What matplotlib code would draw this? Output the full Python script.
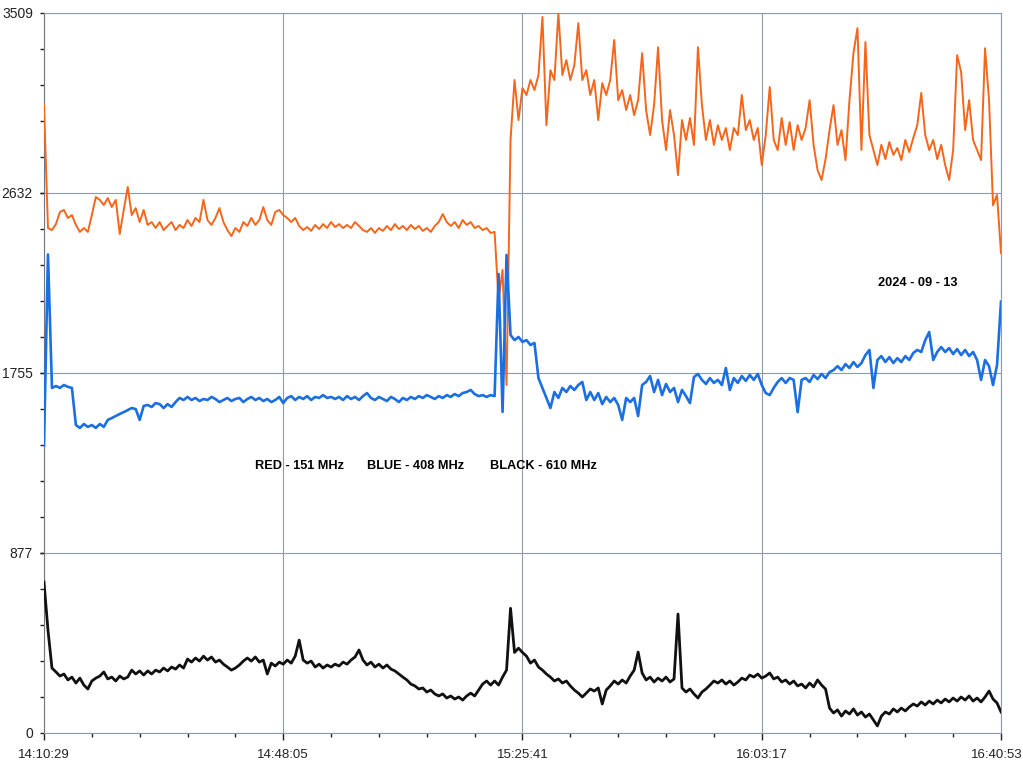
import matplotlib
matplotlib.use('Agg')
import matplotlib.pyplot as plt
from matplotlib.transforms import ScaledTranslation
import numpy as np

plt.rcParams['font.family'] = ['Liberation Sans', 'DejaVu Sans']

# sample clock: seconds since 14:10:29, one reading every 37.6 s
t = np.linspace(0, 9024, 241)

# 151 MHz (red trace)
red = [
    3060, 2459, 2449, 2478, 2537, 2547, 2508, 2522, 2474, 2440,
    2459, 2440, 2522, 2610, 2596, 2571, 2605, 2561, 2596, 2430,
    2547, 2659, 2522, 2556, 2488, 2547, 2474, 2488, 2459, 2488,
    2449, 2469, 2488, 2449, 2474, 2459, 2498, 2469, 2508, 2488,
    2596, 2498, 2474, 2508, 2556, 2488, 2449, 2420, 2459, 2440,
    2488, 2469, 2508, 2474, 2498, 2561, 2498, 2474, 2537, 2547,
    2522, 2508, 2488, 2508, 2469, 2449, 2464, 2445, 2474, 2454,
    2478, 2459, 2488, 2464, 2478, 2459, 2474, 2459, 2488, 2469,
    2449, 2440, 2459, 2435, 2459, 2445, 2469, 2449, 2478, 2454,
    2469, 2449, 2474, 2454, 2469, 2445, 2459, 2440, 2469, 2488,
    2527, 2488, 2469, 2488, 2459, 2498, 2474, 2488, 2459, 2469,
    2449, 2459, 2435, 2440, 2108, 2255, 1694, 2888, 3180, 2985,
    3141, 3107, 3180, 3131, 3204, 3487, 2960, 3228, 3180, 3505,
    3204, 3277, 3180, 3253, 3457, 3180, 3228, 3107, 3180, 2985,
    3165, 3107, 3180, 3375, 3082, 3131, 3034, 3107, 3009, 3082,
    3311, 3034, 2912, 3058, 3340, 2985, 2839, 3034, 2912, 2717,
    2985, 2888, 2995, 2864, 3340, 3058, 2888, 2985, 2864, 2960,
    2888, 2946, 2839, 2946, 2912, 3107, 2936, 2985, 2888, 2946,
    2766, 2912, 3146, 2888, 2839, 2995, 2864, 2975, 2839, 2960,
    2888, 2946, 3082, 2864, 2741, 2693, 2795, 2936, 3058, 2864,
    2936, 2790, 3082, 3311, 3433, 2839, 3365, 2912, 2839, 2766,
    2864, 2795, 2878, 2815, 2849, 2790, 2888, 2829, 2898, 2960,
    3117, 2912, 2839, 2888, 2795, 2864, 2766, 2693, 2839, 3301,
    3219, 2936, 3082, 2888, 2839, 2790, 3335, 3082, 2570, 2620,
    2337]

# 408 MHz (blue trace)
blue = [
    1400, 2330, 1680, 1689, 1680, 1694, 1685, 1680, 1499, 1485,
    1504, 1490, 1499, 1485, 1504, 1490, 1524, 1533, 1543, 1553,
    1562, 1572, 1582, 1577, 1524, 1592, 1597, 1587, 1606, 1601,
    1582, 1601, 1587, 1611, 1631, 1621, 1636, 1621, 1631, 1616,
    1626, 1621, 1636, 1626, 1611, 1621, 1631, 1616, 1626, 1631,
    1611, 1626, 1636, 1621, 1631, 1616, 1626, 1611, 1621, 1636,
    1606, 1631, 1640, 1621, 1636, 1626, 1640, 1621, 1636, 1631,
    1645, 1631, 1636, 1626, 1636, 1621, 1640, 1626, 1636, 1621,
    1640, 1655, 1631, 1621, 1636, 1626, 1616, 1636, 1626, 1611,
    1631, 1621, 1636, 1626, 1640, 1631, 1645, 1636, 1626, 1640,
    1631, 1645, 1636, 1650, 1640, 1655, 1660, 1670, 1650, 1640,
    1645, 1636, 1645, 1640, 2235, 1563, 2328, 1938, 1913, 1928,
    1904, 1913, 1889, 1899, 1728, 1680, 1631, 1582, 1660, 1631,
    1680, 1660, 1689, 1670, 1694, 1709, 1621, 1660, 1621, 1655,
    1601, 1636, 1611, 1631, 1597, 1524, 1631, 1611, 1631, 1543,
    1694, 1709, 1738, 1660, 1719, 1645, 1699, 1660, 1680, 1611,
    1670, 1640, 1606, 1733, 1748, 1719, 1699, 1728, 1704, 1719,
    1694, 1777, 1670, 1728, 1704, 1738, 1714, 1743, 1719, 1748,
    1694, 1655, 1645, 1680, 1709, 1728, 1704, 1728, 1719, 1562,
    1719, 1728, 1709, 1743, 1723, 1748, 1728, 1757, 1767, 1786,
    1767, 1796, 1777, 1806, 1782, 1801, 1840, 1865, 1680, 1816,
    1835, 1806, 1830, 1801, 1825, 1806, 1835, 1816, 1850, 1865,
    1855, 1913, 1952, 1816, 1855, 1879, 1855, 1874, 1845, 1869,
    1840, 1865, 1835, 1855, 1816, 1719, 1816, 1786, 1694, 1791,
    2100]

# 610 MHz (black trace)
black = [
    734, 500, 315, 296, 276, 286, 257, 271, 242, 266,
    232, 213, 252, 266, 276, 296, 262, 271, 252, 276,
    262, 271, 305, 286, 301, 281, 301, 286, 305, 296,
    315, 301, 320, 310, 330, 315, 359, 344, 364, 349,
    373, 354, 369, 344, 354, 334, 320, 305, 315, 330,
    349, 364, 349, 369, 344, 354, 286, 339, 325, 344,
    334, 354, 339, 373, 451, 354, 339, 349, 320, 334,
    315, 330, 320, 334, 325, 344, 334, 354, 369, 403,
    354, 330, 344, 320, 334, 315, 330, 310, 301, 286,
    271, 257, 237, 228, 213, 218, 198, 208, 189, 179,
    189, 169, 179, 164, 174, 159, 179, 193, 179, 208,
    237, 252, 232, 252, 232, 271, 305, 606, 391, 412,
    391, 373, 339, 354, 320, 305, 286, 271, 252, 262,
    242, 252, 228, 208, 193, 174, 193, 213, 203, 218,
    140, 208, 228, 252, 237, 257, 242, 276, 305, 393,
    291, 257, 271, 247, 266, 252, 271, 247, 262, 578,
    218, 198, 213, 189, 169, 198, 213, 232, 252, 242,
    257, 237, 252, 232, 247, 266, 257, 281, 271, 286,
    266, 276, 291, 262, 271, 247, 257, 237, 252, 228,
    237, 218, 242, 223, 257, 232, 213, 120, 96, 111,
    81, 106, 91, 116, 86, 101, 76, 91, 62, 33,
    81, 101, 91, 116, 101, 120, 106, 125, 140, 130,
    150, 135, 154, 140, 159, 145, 164, 150, 169, 154,
    174, 159, 179, 154, 169, 150, 174, 203, 164, 145,
    101]

time_ticks = [0, 2256, 4512, 6768, 9024]
time_labels = ['14:10:29', '14:48:05', '15:25:41', '16:03:17', '16:40:53']
level_ticks = [0, 877, 1755, 2632, 3509]

fig = plt.figure(figsize=(10.23, 7.63), dpi=100)
ax = fig.add_axes([0.043, 0.0397, 0.9355, 0.9439])

ax.plot(t, red, color='#f4661b', lw=1.4, zorder=3)
ax.plot(t, black, color='#111111', lw=2.0, zorder=3)
ax.plot(t, blue, color='#1b6fe0', lw=1.9, zorder=4)

ax.set_xlim(0, 9024)
ax.set_ylim(0, 3509)

ax.set_xticks(time_ticks)
ax.set_xticklabels(time_labels)
ax.set_xticks(np.linspace(0, 9024, 21), minor=True)
ax.set_yticks(level_ticks)
ax.set_yticklabels([str(v) for v in level_ticks])
ax.set_yticks(np.linspace(0, 3509, 21), minor=True)

ax.set_axisbelow(True)
ax.grid(True, which='major', color='#8e9aab', lw=0.8)
for side in ['top', 'right', 'bottom', 'left']:
    ax.spines[side].set_color('#8e9aab')
    ax.spines[side].set_linewidth(0.8)
ax.spines['left'].set_color('#6d7682')

ax.tick_params(axis='x', which='major', length=5, width=1.0, color='#222222',
               pad=7, labelsize=9.5, labelcolor='#222222')
ax.tick_params(axis='x', which='minor', length=3, width=1.0, color='#222222')
ax.tick_params(axis='y', which='major', length=3, width=1.0, color='#222222',
               pad=5, labelsize=10, labelcolor='#222222')
ax.tick_params(axis='y', which='minor', length=3, width=1.0, color='#222222')

# keep the last time label inside the figure
last = ax.get_xticklabels()[-1]
last.set_transform(last.get_transform() + ScaledTranslation(-3 / 72, 0, fig.dpi_scale_trans))

# band legend and date written on the chart
ax.text(1990, 1299, 'RED - 151 MHz', fontsize=9.2, fontweight='bold', va='center')
ax.text(3046, 1299, 'BLUE - 408 MHz', fontsize=9.2, fontweight='bold', va='center')
ax.text(4206, 1299, 'BLACK - 610 MHz', fontsize=9.2, fontweight='bold', va='center')
ax.text(7864, 2191, '2024 - 09 - 13', fontsize=9.2, fontweight='bold', va='center')

fig.savefig('out.png', dpi=100)
